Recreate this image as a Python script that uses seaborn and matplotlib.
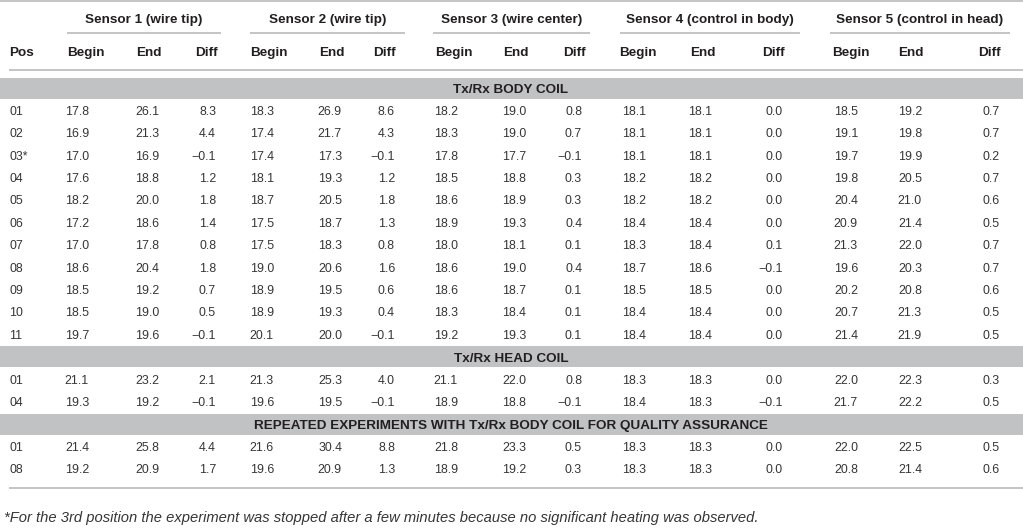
import matplotlib
matplotlib.use("Agg")
import matplotlib.pyplot as plt
import seaborn as sns

# ---------------- data ----------------
sensor_titles = ["Sensor 1 (wire tip)", "Sensor 2 (wire tip)", "Sensor 3 (wire center)",
                 "Sensor 4 (control in body)", "Sensor 5 (control in head)"]
sub_headers = ["Begin", "End", "Diff"]
section_titles = ["Tx/Rx BODY COIL", "Tx/Rx HEAD COIL",
                  "REPEATED EXPERIMENTS WITH Tx/Rx BODY COIL FOR QUALITY ASSURANCE"]
section_sizes = [11, 2, 2]
pos_labels = ["01", "02", "03*", "04", "05", "06", "07", "08", "09", "10", "11",
              "01", "04",
              "01", "08"]

s1_begin = [17.8, 16.9, 17.0, 17.6, 18.2, 17.2, 17.0, 18.6, 18.5, 18.5, 19.7, 21.1, 19.3, 21.4, 19.2]
s1_end   = [26.1, 21.3, 16.9, 18.8, 20.0, 18.6, 17.8, 20.4, 19.2, 19.0, 19.6, 23.2, 19.2, 25.8, 20.9]
s1_diff  = [8.3, 4.4, -0.1, 1.2, 1.8, 1.4, 0.8, 1.8, 0.7, 0.5, -0.1, 2.1, -0.1, 4.4, 1.7]

s2_begin = [18.3, 17.4, 17.4, 18.1, 18.7, 17.5, 17.5, 19.0, 18.9, 18.9, 20.1, 21.3, 19.6, 21.6, 19.6]
s2_end   = [26.9, 21.7, 17.3, 19.3, 20.5, 18.7, 18.3, 20.6, 19.5, 19.3, 20.0, 25.3, 19.5, 30.4, 20.9]
s2_diff  = [8.6, 4.3, -0.1, 1.2, 1.8, 1.3, 0.8, 1.6, 0.6, 0.4, -0.1, 4.0, -0.1, 8.8, 1.3]

s3_begin = [18.2, 18.3, 17.8, 18.5, 18.6, 18.9, 18.0, 18.6, 18.6, 18.3, 19.2, 21.1, 18.9, 21.8, 18.9]
s3_end   = [19.0, 19.0, 17.7, 18.8, 18.9, 19.3, 18.1, 19.0, 18.7, 18.4, 19.3, 22.0, 18.8, 23.3, 19.2]
s3_diff  = [0.8, 0.7, -0.1, 0.3, 0.3, 0.4, 0.1, 0.4, 0.1, 0.1, 0.1, 0.8, -0.1, 0.5, 0.3]

s4_begin = [18.1, 18.1, 18.1, 18.2, 18.2, 18.4, 18.3, 18.7, 18.5, 18.4, 18.4, 18.3, 18.4, 18.3, 18.3]
s4_end   = [18.1, 18.1, 18.1, 18.2, 18.2, 18.4, 18.4, 18.6, 18.5, 18.4, 18.4, 18.3, 18.3, 18.3, 18.3]
s4_diff  = [0.0, 0.0, 0.0, 0.0, 0.0, 0.0, 0.1, -0.1, 0.0, 0.0, 0.0, 0.0, -0.1, 0.0, 0.0]

s5_begin = [18.5, 19.1, 19.7, 19.8, 20.4, 20.9, 21.3, 19.6, 20.2, 20.7, 21.4, 22.0, 21.7, 22.0, 20.8]
s5_end   = [19.2, 19.8, 19.9, 20.5, 21.0, 21.4, 22.0, 20.3, 20.8, 21.3, 21.9, 22.3, 22.2, 22.5, 21.4]
s5_diff  = [0.7, 0.7, 0.2, 0.7, 0.6, 0.5, 0.7, 0.7, 0.6, 0.5, 0.5, 0.3, 0.5, 0.5, 0.6]

footnote = ("*For the 3rd position the experiment was stopped after a few minutes "
            "because no significant heating was observed.")

sensors = [
    (s1_begin, s1_end, s1_diff),
    (s2_begin, s2_end, s2_diff),
    (s3_begin, s3_end, s3_diff),
    (s4_begin, s4_end, s4_diff),
    (s5_begin, s5_end, s5_diff),
]

# ---------------- layout / style ----------------
sns.set_theme(style="white")
plt.rcParams["font.family"] = ["Liberation Sans", "DejaVu Sans"]

W, H = 1023, 529
fig = plt.figure(figsize=(W / 100, H / 100), dpi=100)
ax = fig.add_axes([0, 0, 1, 1])
ax.set_xlim(0, W)
ax.set_ylim(H, 0)
ax.axis("off")

HEAD_C = "#231f20"
DATA_C = "#363636"
LINE_C = "#c4c4c4"
BAND_C = "#c1c2c4"
HFS = 9.7
DFS = 8.9
HB = 4.8   # baseline offset (px) below visual centre for header text
DB = 4.4   # baseline offset for data text

group_span = [(67, 221), (250, 405), (433, 590), (620, 800), (830, 1010)]
head_left = [(67, 136, 195), (250, 319, 373), (435, 503, 563), (619, 690, 762), (832, 898, 978)]
data_right = [(89, 159, 216), (274, 342, 395), (458, 526, 582), (646, 712, 783), (858, 922, 1000)]
pos_x = 9

# top rule
ax.plot([0, W], [1, 1], color=LINE_C, lw=1.4, solid_capstyle="butt")

# header row 1
for title, (x0, x1) in zip(sensor_titles, group_span):
    ax.text((x0 + x1) / 2, 18.5 + HB, title, ha="center", va="baseline", fontsize=HFS,
            fontweight="bold", color=HEAD_C)
    ax.plot([x0, x1], [33, 33], color=LINE_C, lw=1.4, solid_capstyle="butt")

# header row 2
ax.text(pos_x, 51 + HB, "Pos", ha="left", va="baseline", fontsize=HFS, fontweight="bold", color=HEAD_C)
for lefts in head_left:
    for lab, x in zip(sub_headers, lefts):
        ax.text(x, 51 + HB, lab, ha="left", va="baseline", fontsize=HFS,
                fontweight="bold", color=HEAD_C)
ax.plot([pos_x, W], [70, 70], color=LINE_C, lw=1.4, solid_capstyle="butt")


def fmt(v):
    return f"{v:.1f}".replace("-", "\u2212")


y0, step = 88.0, 22.4
slot = 0
row = 0
for title, n in zip(section_titles, section_sizes):
    yc = y0 + step * slot
    ax.fill_between([0, W], yc - 10.5, yc + 10.5, color=BAND_C, lw=0)
    ax.text(511, yc + HB, title, ha="center", va="baseline", fontsize=HFS,
            fontweight="bold", color=HEAD_C)
    slot += 1
    for _ in range(n):
        yr = y0 + step * slot + DB
        ax.text(pos_x, yr, pos_labels[row], ha="left", va="baseline", fontsize=DFS, color=DATA_C)
        for (b, e, d), xs in zip(sensors, data_right):
            for vals, x in zip((b, e, d), xs):
                ax.text(x, yr, fmt(vals[row]), ha="right", va="baseline",
                        fontsize=DFS, color=DATA_C)
        slot += 1
        row += 1

# bottom rule
ax.plot([pos_x, W], [488, 488], color=LINE_C, lw=1.4, solid_capstyle="butt")

ax.text(4, 517 + 5, footnote, ha="left", va="baseline", fontsize=10.6, style="italic", color=DATA_C)

fig.savefig("out.png", dpi=100)
